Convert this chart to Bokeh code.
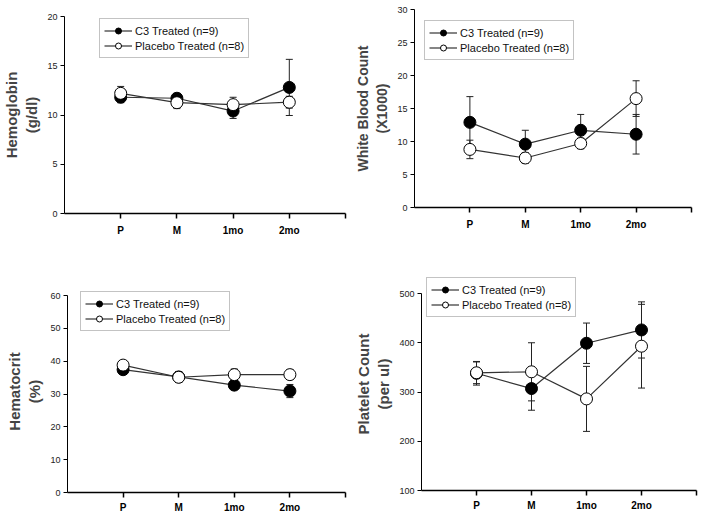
from bokeh.plotting import figure
from bokeh.models import FixedTicker, Legend, LegendItem, Range1d
from bokeh.embed import file_html
from bokeh.resources import INLINE

time_labels = ["P", "M", "1mo", "2mo"]
x_pos = [1, 2, 3, 4]

hgb_c3 = [11.8, 11.7, 10.4, 12.8]
hgb_c3_err = [0.55, 0.5, 0.75, 2.85]
hgb_pl = [12.2, 11.25, 11.05, 11.3]
hgb_pl_err = [0.7, 0.6, 0.75, 0.6]

wbc_c3 = [12.9, 9.6, 11.7, 11.1]
wbc_c3_err = [3.9, 2.1, 2.4, 3.0]
wbc_pl = [8.8, 7.5, 9.7, 16.5]
wbc_pl_err = [1.4, 0.8, 0.8, 2.7]

hct_c3 = [37.4, 35.2, 32.7, 30.9]
hct_c3_err = [1.2, 1.6, 1.2, 2.0]
hct_pl = [38.8, 35.1, 35.9, 35.9]
hct_pl_err = [1.2, 1.6, 1.7, 1.5]

plt_c3 = [338, 307, 399, 426]
plt_c3_err = [24, 44, 41, 57]
plt_pl = [339, 341, 286, 393]
plt_pl_err = [22, 59, 66, 85]

FONT = "Liberation Sans"


def inv(va, pa, vb, pb, px):
    return va + (px - pa) * (vb - va) / (pb - pa)


def panel(c3, c3e, pl, ple, ylabel, label_size, ymin, ymax, ystep,
          origin, size, frame, ymap, leg_loc, x_standoff):
    ox, oy = origin
    w, h = size
    fl, fr, ft, fb = frame
    yr = Range1d(inv(ymap[0], ymap[1], ymap[2], ymap[3], fb),
                 inv(ymap[0], ymap[1], ymap[2], ymap[3], ft))
    p = figure(width=w, height=h, output_backend="svg", toolbar_location=None,
               x_range=Range1d(0, 5), y_range=yr,
               min_border_left=fl - ox, min_border_right=ox + w - fr,
               min_border_top=ft - oy, min_border_bottom=oy + h - fb,
               styles={"position": "absolute", "left": f"{ox}px", "top": f"{oy}px"})
    p.outline_line_color = None
    p.grid.visible = False

    # error bars
    for vals, errs in ((c3, c3e), (pl, ple)):
        lo = [v - e for v, e in zip(vals, errs)]
        hi = [v + e for v, e in zip(vals, errs)]
        p.segment(x0=x_pos, y0=lo, x1=x_pos, y1=hi, line_color="#222", line_width=1)
        p.scatter(x_pos, hi, marker="dash", size=7, line_color="#222", line_width=1)
        p.scatter(x_pos, lo, marker="dash", size=7, line_color="#222", line_width=1)

    l1 = p.line(x_pos, c3, line_color="#333", line_width=1.2)
    l2 = p.line(x_pos, pl, line_color="#333", line_width=1.2)
    s1 = p.scatter(x_pos, c3, size=12, fill_color="black", line_color="black")
    s2 = p.scatter(x_pos, pl, size=12, fill_color="white", line_color="black")

    legend = Legend(items=[LegendItem(label="C3 Treated (n=9)", renderers=[l1, s1]),
                           LegendItem(label="Placebo Treated (n=8)", renderers=[l2, s2])],
                    location=leg_loc, orientation="vertical",
                    label_text_font=FONT, label_text_font_size="11px",
                    label_text_color="#111",
                    glyph_width=28, glyph_height=15, label_height=15,
                    label_standoff=3, spacing=0, padding=4, margin=0,
                    border_line_color="#888", border_line_width=1,
                    background_fill_color="white", background_fill_alpha=1)
    p.add_layout(legend)

    # x axis
    xa = p.xaxis[0]
    xa.ticker = FixedTicker(ticks=[1, 2, 3, 4, 5])
    xa.major_label_overrides = {1: time_labels[0], 2: time_labels[1],
                                3: time_labels[2], 4: time_labels[3], 5: ""}
    xa.major_label_text_font = FONT
    xa.major_label_text_font_style = "bold"
    xa.major_label_text_font_size = "10px"
    xa.major_label_text_color = "black"
    xa.major_tick_in = 0
    xa.major_tick_out = 5
    xa.minor_tick_line_color = None
    xa.axis_line_width = 1.5
    xa.major_tick_line_width = 1.5
    xa.major_label_standoff = x_standoff

    # y axis
    ya = p.yaxis[0]
    ya.ticker = FixedTicker(ticks=list(range(ymin, ymax + 1, ystep)))
    ya.bounds = (ymin, ymax)
    ya.major_label_text_font = FONT
    ya.major_label_text_font_size = "9px"
    ya.major_label_text_color = "#222"
    ya.major_tick_in = 0
    ya.major_tick_out = 4
    ya.minor_tick_line_color = None
    ya.axis_line_width = 1
    ya.major_label_standoff = 3
    ya.axis_label = ylabel
    ya.axis_label_text_font = FONT
    ya.axis_label_text_font_style = "bold"
    ya.axis_label_text_font_size = label_size
    ya.axis_label_standoff = 4
    return p


p1 = panel(hgb_c3, hgb_c3_err, hgb_pl, hgb_pl_err, "Hemoglobin\n(g/dl)", "15px",
           0, 20, 5, (0, 0), (352, 259), (63, 345, 16, 213),
           (0, 213, 20, 16), (35, 155), 6)
p2 = panel(wbc_c3, wbc_c3_err, wbc_pl, wbc_pl_err, "White Blood Count\n(X1000)", "14px",
           0, 30, 5, (352, 0), (352, 259), (411, 691, 9, 207),
           (0, 207, 30, 9), (10, 147), 6)
p3 = panel(hct_c3, hct_c3_err, hct_pl, hct_pl_err, "Hematocrit\n(%)", "15px",
           0, 60, 10, (0, 259), (352, 259), (67, 345, 290, 492),
           (0, 492, 60, 295), (13, 161), 4)
p4 = panel(plt_c3, plt_c3_err, plt_pl, plt_pl_err, "Platelet Count\n(per ul)", "15px",
           100, 500, 100, (352, 259), (352, 259), (415, 696, 277, 490),
           (100, 490, 500, 293), (5, 173), 4)

p = [p1, p2, p3, p4]
open("out.html", "w").write(file_html(p, INLINE))
